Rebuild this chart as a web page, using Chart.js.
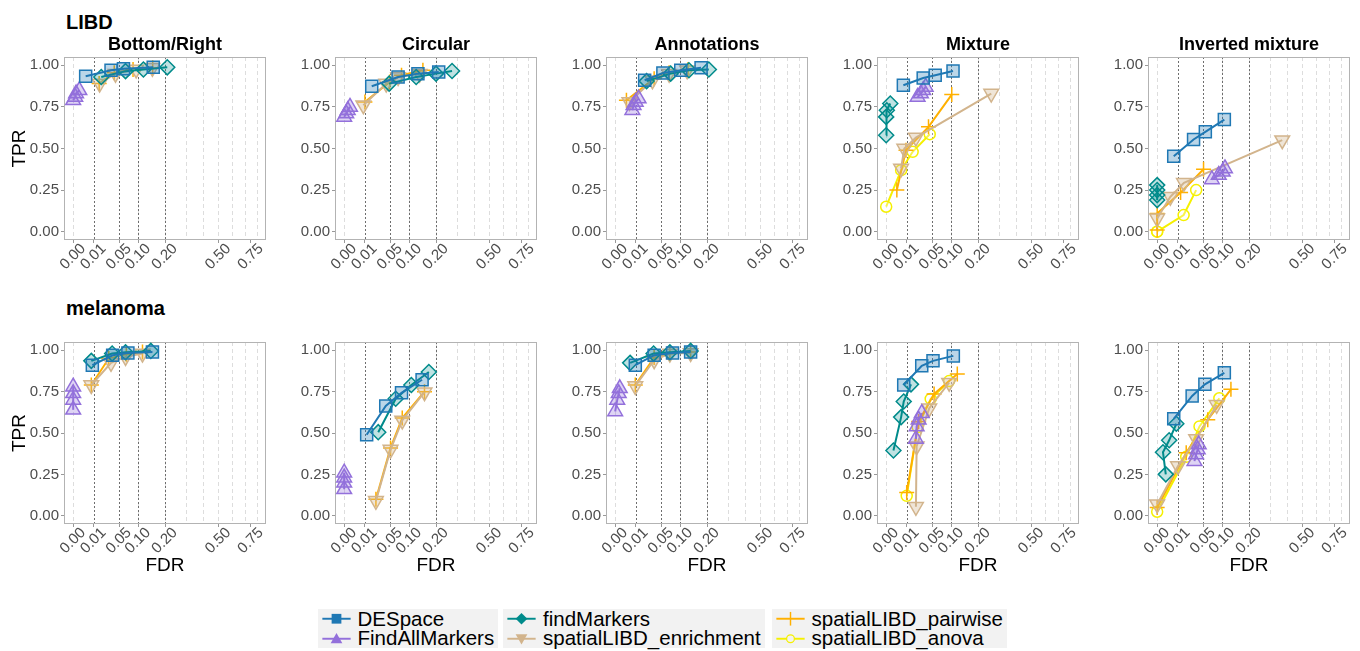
<!DOCTYPE html>
<html>
<head>
<meta charset="utf-8">
<script src="https://cdn.jsdelivr.net/npm/chart.js@4.4.1/dist/chart.umd.min.js"></script>
<style>
  body { margin: 0; background: #fff; }
  #page { position: relative; width: 1360px; height: 651px; overflow: hidden; font-family: "Liberation Sans", Arial, sans-serif; }
  #page canvas { position: absolute; }
  .group-label { position: absolute; font-weight: bold; font-size: 20px; color: #000; line-height: 24px; }
  .legend-col { position: absolute; top: 609px; height: 39px; background: #f2f2f2; }
  .legend-row { display: flex; align-items: center; height: 19.5px; font-size: 20.5px; color: #000; white-space: nowrap; padding-right: 4px; }
  .legend-row svg { flex: none; margin-right: 3px; }
</style>
</head>
<body>
<div id="page">
  <div class="group-label" style="left:66px;top:10px">LIBD</div>
  <div class="group-label" style="left:66px;top:296px">melanoma</div>
</div>
<script>
// Panels
const panelTitles = ['Bottom/Right', 'Circular', 'Annotations', 'Mixture', 'Inverted mixture'];
const groupNames = ['LIBD', 'melanoma'];
const methodNames = ['DESpace', 'FindAllMarkers', 'findMarkers', 'spatialLIBD_enrichment', 'spatialLIBD_pairwise', 'spatialLIBD_anova'];

// Axis ticks
const fdrTicks = [0, 0.01, 0.05, 0.1, 0.2, 0.5, 0.75];
const fdrGrid = [0, 0.1, 0.2, 0.3, 0.4, 0.5, 0.6, 0.7, 0.8];
const fdrThresholds = [0.01, 0.05, 0.1, 0.2];
const tprTicks = [0, 0.25, 0.5, 0.75, 1];

// Observed FDR / TPR at the 4 thresholds (0.01, 0.05, 0.1, 0.2)
// one row per panel: LIBD x5, then melanoma x5
const despaceFdr = [
  [0.0037, 0.034, 0.060, 0.152], [0.018, 0.069, 0.129, 0.212], [0.0206, 0.054, 0.102, 0.175],
  [0.007, 0.0325, 0.057, 0.106], [0.0065, 0.0314, 0.055, 0.107],
  [0.0087, 0.037, 0.071, 0.149], [0.012, 0.041, 0.078, 0.144], [0.0096, 0.036, 0.078, 0.135],
  [0.0073, 0.030, 0.052, 0.107], [0.0065, 0.029, 0.054, 0.107]
];
const despaceTpr = [
  [0.934, 0.97, 0.98, 0.988], [0.874, 0.93, 0.95, 0.96], [0.91, 0.954, 0.97, 0.986],
  [0.88, 0.924, 0.94, 0.966], [0.454, 0.554, 0.60, 0.674],
  [0.91, 0.97, 0.984, 0.99], [0.489, 0.663, 0.743, 0.822], [0.91, 0.97, 0.984, 0.99],
  [0.79, 0.906, 0.936, 0.966], [0.586, 0.724, 0.794, 0.864]
];

const findAllFdr = [
  [0, 0.0001, 0.0002, 0.0009], [0, 0.0001, 0.0003, 0.0008], [0.007, 0.008, 0.010, 0.013],
  [0.0234, 0.0286, 0.0325, 0.037], [0.071, 0.09, 0.102, 0.109],
  [0, 0, 0, 0], [0, 0, 0, 0], [0, 0.0001, 0.0003, 0.0005],
  [0.021, 0.022, 0.025, 0.030], [0.033, 0.036, 0.039, 0.041]
];
const findAllTpr = [
  [0.79, 0.81, 0.83, 0.85], [0.69, 0.71, 0.73, 0.75], [0.73, 0.76, 0.78, 0.80],
  [0.81, 0.83, 0.85, 0.87], [0.314, 0.34, 0.36, 0.38],
  [0.64, 0.70, 0.74, 0.78], [0.16, 0.20, 0.23, 0.26], [0.63, 0.70, 0.74, 0.77],
  [0.464, 0.54, 0.58, 0.62], [0.33, 0.37, 0.40, 0.43]
];

const findMarkersFdr = [
  [0.0187, 0.065, 0.117, 0.21], [0.048, 0.123, 0.2, 0.276], [0.0234, 0.073, 0.129, 0.208],
  [0, 0, 0.00001, 0.0004], [0, 0, 0, 0],
  [0.0078, 0.036, 0.065, 0.143], [0.0275, 0.063, 0.107, 0.17], [0.0053, 0.035, 0.071, 0.135],
  [0.00125, 0.0053, 0.0073, 0.0146], [0.00175, 0.0008, 0.0034, 0.0087]
];
const findMarkersTpr = [
  [0.93, 0.965, 0.975, 0.988], [0.89, 0.93, 0.95, 0.966], [0.905, 0.95, 0.97, 0.975],
  [0.58, 0.69, 0.73, 0.77], [0.19, 0.22, 0.25, 0.28],
  [0.936, 0.98, 0.988, 0.996], [0.505, 0.707, 0.79, 0.869], [0.924, 0.98, 0.988, 0.996],
  [0.394, 0.596, 0.69, 0.794], [0.25, 0.384, 0.456, 0.556]
];

const enrichmentFdr = [
  [0.0166, 0.0424, 0.094, 0.149], [0.0087, 0.042, 0.069, 0.135], [0.0048, 0.033, 0.069, 0.123],
  [0.00525, 0.0078, 0.021, 0.262], [0, 0.0041, 0.017, 0.371],
  [0.0078, 0.034, 0.065, 0.114], [0.0239, 0.051, 0.080, 0.153], [0.0096, 0.036, 0.071, 0.135],
  [0.021, 0.022, 0.044, 0.094], [0, 0.0103, 0.036, 0.084]
];
const enrichmentTpr = [
  [0.89, 0.95, 0.975, 0.985], [0.76, 0.89, 0.93, 0.95], [0.78, 0.91, 0.95, 0.97],
  [0.38, 0.50, 0.566, 0.83], [0.08, 0.21, 0.294, 0.55],
  [0.79, 0.924, 0.96, 0.98], [0.09, 0.40, 0.576, 0.747], [0.784, 0.94, 0.98, 0.984],
  [0.054, 0.42, 0.65, 0.804], [0.07, 0.30, 0.464, 0.67]
];

const pairwiseFdr = [
  [0.016, 0.04, 0.085, 0.15], [0.0102, 0.049, 0.078, 0.147], [0.003, 0.036, 0.069, 0.126],
  [0.0027, 0.0093, 0.0425, 0.102], [0, 0, 0.013, 0.051],
  [0.0078, 0.03, 0.067, 0.114], [0.0239, 0.051, 0.080, 0.153], [0.0096, 0.036, 0.071, 0.135],
  [0.01, 0.025, 0.0545, 0.12], [0, 0.020, 0.0607, 0.129]
];
const pairwiseTpr = [
  [0.89, 0.955, 0.975, 0.985], [0.78, 0.9, 0.94, 0.97], [0.79, 0.92, 0.955, 0.975],
  [0.25, 0.49, 0.63, 0.824], [0.01, 0.11, 0.235, 0.375],
  [0.79, 0.95, 0.976, 0.99], [0.10, 0.41, 0.59, 0.75], [0.79, 0.956, 0.98, 0.99],
  [0.14, 0.57, 0.736, 0.856], [0.05, 0.38, 0.58, 0.764]
];

// anova only run on the mixture patterns
const anovaFdr = [
  null, null, null, [0, 0.0053, 0.0166, 0.045], [0, 0, 0.0166, 0.036],
  null, null, null, [0.01, 0.0234, 0.047, 0.094], [0, 0.020, 0.0425, 0.0916]
];
const anovaTpr = [
  null, null, null, [0.15, 0.37, 0.48, 0.586], [0, 0, 0.10, 0.25],
  null, null, null, [0.12, 0.536, 0.706, 0.814], [0.024, 0.356, 0.54, 0.71]
];

const seriesFdr = [despaceFdr, findAllFdr, findMarkersFdr, enrichmentFdr, pairwiseFdr, anovaFdr];
const seriesTpr = [despaceTpr, findAllTpr, findMarkersTpr, enrichmentTpr, pairwiseTpr, anovaTpr];

// Styles
const FONT = '"Liberation Sans", Arial, sans-serif';
const methodStyles = [
  { line: '#1F78B4', fill: 'rgba(31,120,180,0.30)', shape: 'rect', radius: 8.5, rot: 0 },
  { line: '#9370DB', fill: 'rgba(147,112,219,0.30)', shape: 'triangle', radius: 8.5, rot: 0 },
  { line: '#008B8B', fill: 'rgba(0,139,139,0.25)', shape: 'rectRot', radius: 7.5, rot: 0 },
  { line: '#D2B48C', fill: 'rgba(210,180,140,0.35)', shape: 'triangle', radius: 8.5, rot: 180 },
  { line: '#FFB000', fill: 'rgba(0,0,0,0)', shape: 'cross', radius: 7.5, rot: 0 },
  { line: '#F5F000', fill: 'rgba(255,255,255,0.3)', shape: 'circle', radius: 5.5, rot: 0 }
];

const colLeft = [64, 335, 606, 877, 1148];
const plotWidth = 204;
const plotHeight = 183;
const yAxisWidth = 64;
const xMax = Math.sqrt(0.8) * 1.05;
const xMin = -Math.sqrt(0.8) * 0.05;

// grid lines, threshold lines and panel border
const panelFrame = {
  id: 'panelFrame',
  beforeDatasetsDraw(chart) {
    const { ctx, chartArea: a, scales: { x } } = chart;
    ctx.save();
    ctx.lineWidth = 1;
    ctx.strokeStyle = '#dddddd';
    ctx.setLineDash([4, 3]);
    fdrGrid.forEach(v => {
      const px = Math.round(x.getPixelForValue(Math.sqrt(v))) + 0.5;
      ctx.beginPath(); ctx.moveTo(px, a.top); ctx.lineTo(px, a.bottom); ctx.stroke();
    });
    ctx.strokeStyle = '#6e6e6e';
    ctx.setLineDash([2, 2]);
    fdrThresholds.forEach(v => {
      const px = Math.round(x.getPixelForValue(Math.sqrt(v))) + 0.5;
      ctx.beginPath(); ctx.moveTo(px, a.top); ctx.lineTo(px, a.bottom); ctx.stroke();
    });
    ctx.setLineDash([]);
    ctx.strokeStyle = '#b3b3b3';
    ctx.strokeRect(Math.round(a.left) + 0.5, Math.round(a.top) + 0.5, Math.round(a.width) - 1, Math.round(a.height) - 1);
    ctx.restore();
  }
};

const page = document.getElementById('page');

function makePanel(row, col) {
  const p = row * 5 + col;
  const titleH = row === 0 ? 27 : 0;
  const topPad = row === 0 ? 0 : 10;
  const xAxisH = row === 0 ? 50 : 56;
  const plotTop = row === 0 ? 57 : 341;
  const canvasTop = plotTop - titleH - topPad;
  const width = yAxisWidth + plotWidth + 8;
  const height = titleH + topPad + plotHeight + xAxisH;

  const canvas = document.createElement('canvas');
  canvas.width = width;
  canvas.height = height;
  canvas.style.left = (colLeft[col] - yAxisWidth) + 'px';
  canvas.style.top = canvasTop + 'px';
  canvas.style.width = width + 'px';
  canvas.style.height = height + 'px';
  page.appendChild(canvas);

  const datasets = [];
  methodNames.forEach((name, m) => {
    const fdr = seriesFdr[m][p];
    const tpr = seriesTpr[m][p];
    if (!fdr) return;
    const st = methodStyles[m];
    datasets.push({
      label: name,
      data: fdr.map((f, i) => ({ x: Math.sqrt(f), y: tpr[i] })),
      showLine: true,
      borderColor: st.line,
      borderWidth: 2,
      pointStyle: st.shape,
      pointRadius: st.radius,
      pointRotation: st.rot,
      pointBackgroundColor: st.fill,
      pointBorderColor: st.line,
      pointBorderWidth: 1.5,
      clip: false
    });
  });

  new Chart(canvas, {
    type: 'scatter',
    data: { datasets },
    options: {
      responsive: false,
      animation: false,
      events: [],
      layout: { padding: { top: topPad, right: 8, left: 0, bottom: 0 } },
      plugins: {
        legend: { display: false },
        tooltip: { enabled: false },
        title: {
          display: row === 0,
          text: panelTitles[col],
          fullSize: false,
          color: '#000',
          font: { family: FONT, size: 18, weight: 'bold', lineHeight: '20px' },
          padding: { top: 5, bottom: 2 }
        }
      },
      scales: {
        x: {
          type: 'linear',
          min: xMin,
          max: xMax,
          afterBuildTicks: s => { s.ticks = fdrTicks.map(v => ({ value: Math.sqrt(v) })); },
          afterFit: s => { s.height = xAxisH; },
          ticks: {
            autoSkip: false,
            minRotation: 45,
            maxRotation: 45,
            labelOffset: 10,
            padding: -3,
            color: '#4d4d4d',
            font: { family: FONT, size: 15 },
            callback: v => (v * v).toFixed(2)
          },
          grid: { drawOnChartArea: false, tickLength: 3, color: '#999999' },
          border: { display: false },
          title: {
            display: row === 1,
            text: 'FDR',
            color: '#000',
            font: { family: FONT, size: 19 },
            padding: { top: 0, bottom: 3 }
          }
        },
        y: {
          type: 'linear',
          min: -0.05,
          max: 1.05,
          afterBuildTicks: s => { s.ticks = tprTicks.map(v => ({ value: v })); },
          afterFit: s => { s.width = yAxisWidth; },
          ticks: {
            padding: 2,
            color: '#4d4d4d',
            font: { family: FONT, size: 15 },
            callback: v => v.toFixed(2)
          },
          grid: { drawOnChartArea: false, tickLength: 3, color: '#999999' },
          border: { display: false },
          title: {
            display: col === 0,
            text: 'TPR',
            color: '#000',
            font: { family: FONT, size: 19 },
            padding: { top: 8, bottom: 0 }
          }
        }
      }
    },
    plugins: [panelFrame]
  });
}

for (let r = 0; r < 2; r++) {
  for (let c = 0; c < 5; c++) makePanel(r, c);
}

// Legend (3 columns of 2)
const legendCols = [317.5, 503, 771.5];
function keySvg(st) {
  const cx = 18.5, cy = 10;
  let mark = '';
  if (st.shape === 'rect') mark = `<rect x="${cx - 5}" y="${cy - 5}" width="10" height="10" fill="${st.line}"/>`;
  else if (st.shape === 'triangle' && st.rot === 0) mark = `<polygon points="${cx},${cy - 6} ${cx - 6},${cy + 4.5} ${cx + 6},${cy + 4.5}" fill="${st.line}"/>`;
  else if (st.shape === 'triangle') mark = `<polygon points="${cx},${cy + 6} ${cx - 6},${cy - 4.5} ${cx + 6},${cy - 4.5}" fill="${st.line}"/>`;
  else if (st.shape === 'rectRot') mark = `<polygon points="${cx},${cy - 6} ${cx + 6},${cy} ${cx},${cy + 6} ${cx - 6},${cy}" fill="${st.line}"/>`;
  else if (st.shape === 'cross') mark = `<path d="M${cx} ${cy - 7}V${cy + 7}" stroke="${st.line}" stroke-width="1.5"/>`;
  else mark = `<circle cx="${cx}" cy="${cy}" r="4" fill="#f2f2f2" stroke="${st.line}" stroke-width="1.3"/>`;
  return `<svg width="37" height="19.5" viewBox="0 0 37 20"><line x1="4" y1="${cy}" x2="33" y2="${cy}" stroke="${st.line}" stroke-width="2"/>${mark}</svg>`;
}
legendCols.forEach((left, k) => {
  const col = document.createElement('div');
  col.className = 'legend-col';
  col.style.left = left + 'px';
  [0, 1].forEach(j => {
    const m = k * 2 + j;
    const row = document.createElement('div');
    row.className = 'legend-row';
    row.innerHTML = keySvg(methodStyles[m]) + '<span>' + methodNames[m] + '</span>';
    col.appendChild(row);
  });
  page.appendChild(col);
});
</script>
</body>
</html>
